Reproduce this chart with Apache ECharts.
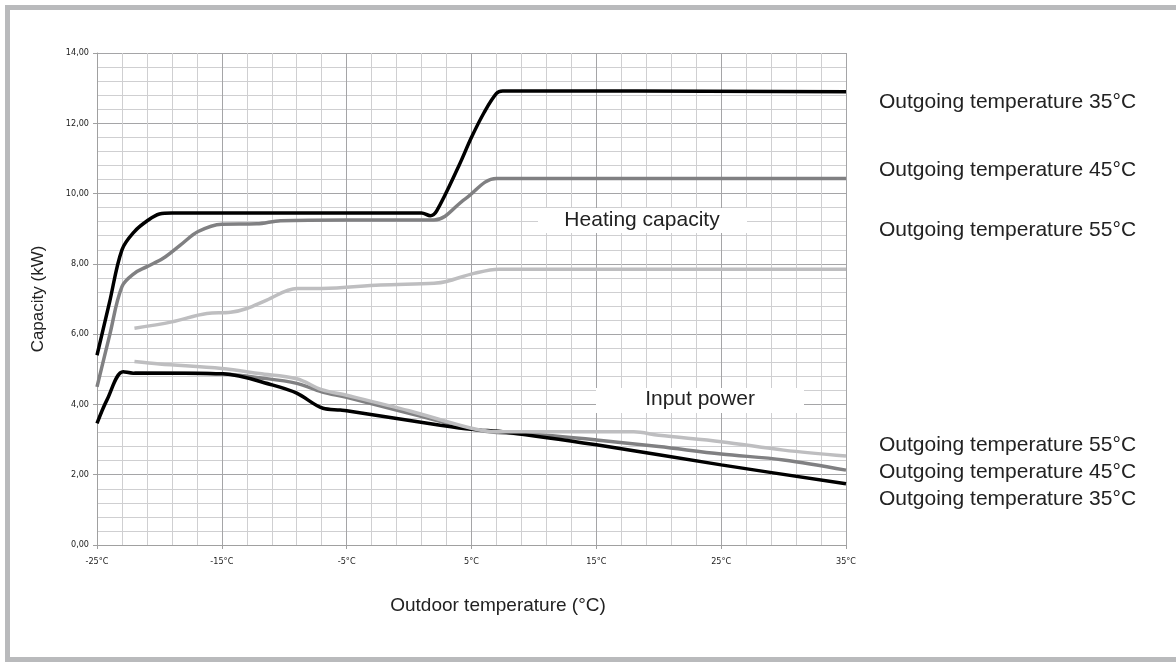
<!DOCTYPE html>
<html>
<head>
<meta charset="utf-8">
<script src="https://cdn.jsdelivr.net/npm/echarts@6/dist/echarts.min.js"></script>
<style>
html,body{margin:0;padding:0;background:#fff;}
#chart{width:1176px;height:662px;}
</style>
</head>
<body>
<div id="chart"></div>
<script>
// Outdoor temperature axis (°C)
const xMin = -25, xMax = 35, xStep = 10;
const yMin = 0, yMax = 14, yStep = 2;

// Heating capacity (kW) — [outdoor °C, kW]
const capacity35 = [[-25,5.4],[-24,6.9],[-23,8.4],[-22,8.92],[-21,9.22],[-20,9.42],[-19,9.45],[1,9.45],[1.7,9.37],[2.2,9.5],[4,10.8],[5,11.6],[6,12.3],[7,12.85],[7.5,12.92],[35,12.9]];
const capacity45 = [[-25,4.5],[-24,5.95],[-23,7.35],[-22,7.73],[-21,7.92],[-19.7,8.16],[-18.3,8.54],[-16.9,8.92],[-15,9.13],[-12.2,9.14],[-10.3,9.23],[-5,9.25],[2,9.25],[4.5,9.85],[7,10.43],[35,10.43]];
const capacity55 = [[-22,6.17],[-19,6.35],[-16.2,6.59],[-14.3,6.62],[-13,6.73],[-11.4,6.97],[-9,7.3],[-7,7.3],[-2.3,7.4],[2,7.45],[3,7.5],[5.2,7.73],[7.2,7.85],[35,7.85]];

// Input power (kW) — [outdoor °C, kW]
const power35 = [[-25,3.46],[-24.2,4.13],[-22.9,4.93],[-22.1,4.89],[-18,4.89],[-14.9,4.87],[-10.9,4.55],[-9,4.32],[-6.9,3.89],[-5.5,3.84],[-5,3.82],[2.5,3.41],[5,3.29],[7.8,3.21],[15,2.85],[25,2.28],[35,1.74]];
const power45 = [[-22,4.9],[-18,4.89],[-15,4.87],[-12,4.76],[-9,4.6],[-7,4.36],[-5,4.2],[0,3.75],[5,3.3],[7,3.2],[10,3.15],[15,2.99],[20,2.8],[25,2.59],[30,2.42],[35,2.13]];
const power55 = [[-22,5.22],[-20,5.15],[-15,5.02],[-12,4.88],[-9,4.73],[-7,4.42],[-5,4.26],[0,3.82],[5,3.32],[7,3.22],[10,3.22],[15,3.22],[18,3.22],[20,3.12],[25,2.94],[30,2.7],[35,2.53]];

const xTitle = 'Outdoor temperature (°C)';
const yTitle = 'Capacity (kW)';
const seriesNames = ['Outgoing temperature 35°C','Outgoing temperature 45°C','Outgoing temperature 55°C'];
const colors = ['#000000','#808082','#bebec0'];

const shift = v => v - xMin; // axis counts from 0 so ticks land on -25, -15, ...
const mk = (arr) => arr.map(p => [shift(p[0]), p[1]]);

const chart = echarts.init(document.getElementById('chart'), null, {renderer:'canvas'});

function line(name, data, color, z){
  return {
    name, type:'line', data: mk(data), smooth:0.35, showSymbol:false, symbol:'none',
    lineStyle:{color, width:3.5}, z
  };
}

const FONT = 'Liberation Sans, Arial, sans-serif';
const SMALL = 'DejaVu Sans Condensed, DejaVu Sans, sans-serif';
const lbl = (x, y, text, size) => ({type:'text', x, y, style:{text, fontFamily:FONT, fontSize:size, fill:'#222', verticalAlign:'middle'}});

const option = {
  animation:false,
  backgroundColor:'#fff',
  grid:{left:97, right:330, top:53, bottom:117},
  xAxis:{
    type:'value', min:0, max:xMax-xMin, interval:xStep,
    axisLine:{show:true, lineStyle:{color:'#a0a0a0', width:1}},
    axisTick:{show:true, length:4, lineStyle:{color:'#a0a0a0'}},
    axisLabel:{formatter: v => (v + xMin) + '°C', fontFamily:SMALL, fontSize:9, color:'#222', margin:12},
    splitLine:{show:true, lineStyle:{color:'#a5a5a7', width:1}},
    minorTick:{show:false, splitNumber:5},
    minorSplitLine:{show:true, lineStyle:{color:'#cfcfd1', width:1}}
  },
  yAxis:{
    type:'value', min:yMin, max:yMax, interval:yStep,
    name:yTitle, nameLocation:'middle', nameGap:50, nameRotate:90,
    nameTextStyle:{fontFamily:FONT, fontSize:17, color:'#222'},
    axisLine:{show:true, lineStyle:{color:'#a0a0a0', width:1}},
    axisTick:{show:true, length:4, lineStyle:{color:'#a0a0a0'}},
    axisLabel:{formatter: v => v.toFixed(2).replace('.',','), fontFamily:SMALL, fontSize:9, color:'#222', margin:8},
    splitLine:{show:true, lineStyle:{color:'#a5a5a7', width:1}},
    minorTick:{show:false, splitNumber:5},
    minorSplitLine:{show:true, lineStyle:{color:'#cfcfd1', width:1}}
  },
  series:[
    line(seriesNames[1], capacity45, colors[1], 3),
    line(seriesNames[2], capacity55, colors[2], 3),
    line(seriesNames[0], capacity35, colors[0], 4),
    line(seriesNames[1], power45, colors[1], 3),
    line(seriesNames[0], power35, colors[0], 4),
    line(seriesNames[2], power55, colors[2], 5)
  ],
  graphic:[
    {type:'rect', shape:{x:7.5, y:7.5, width:1200, height:652}, style:{fill:null, stroke:'#b9babc', lineWidth:5}, silent:true, z:100},
    {type:'rect', shape:{x:538, y:208, width:209, height:25}, style:{fill:'#fff'}, z:50},
    {type:'text', x:642, y:220, style:{text:'Heating capacity', fontFamily:FONT, fontSize:21, fill:'#222', align:'center', verticalAlign:'middle'}, z:51},
    {type:'rect', shape:{x:596, y:388, width:208, height:25}, style:{fill:'#fff'}, z:50},
    {type:'text', x:700, y:399, style:{text:'Input power', fontFamily:FONT, fontSize:21, fill:'#222', align:'center', verticalAlign:'middle'}, z:51},
    {type:'text', x:498, y:606, style:{text:xTitle, fontFamily:FONT, fontSize:19, fill:'#222', align:'center', verticalAlign:'middle'}},
    lbl(879, 102, seriesNames[0], 21),
    lbl(879, 170, seriesNames[1], 21),
    lbl(879, 230, seriesNames[2], 21),
    lbl(879, 445, seriesNames[2], 21),
    lbl(879, 472, seriesNames[1], 21),
    lbl(879, 499, seriesNames[0], 21)
  ]
};
chart.setOption(option);
</script>
</body>
</html>
